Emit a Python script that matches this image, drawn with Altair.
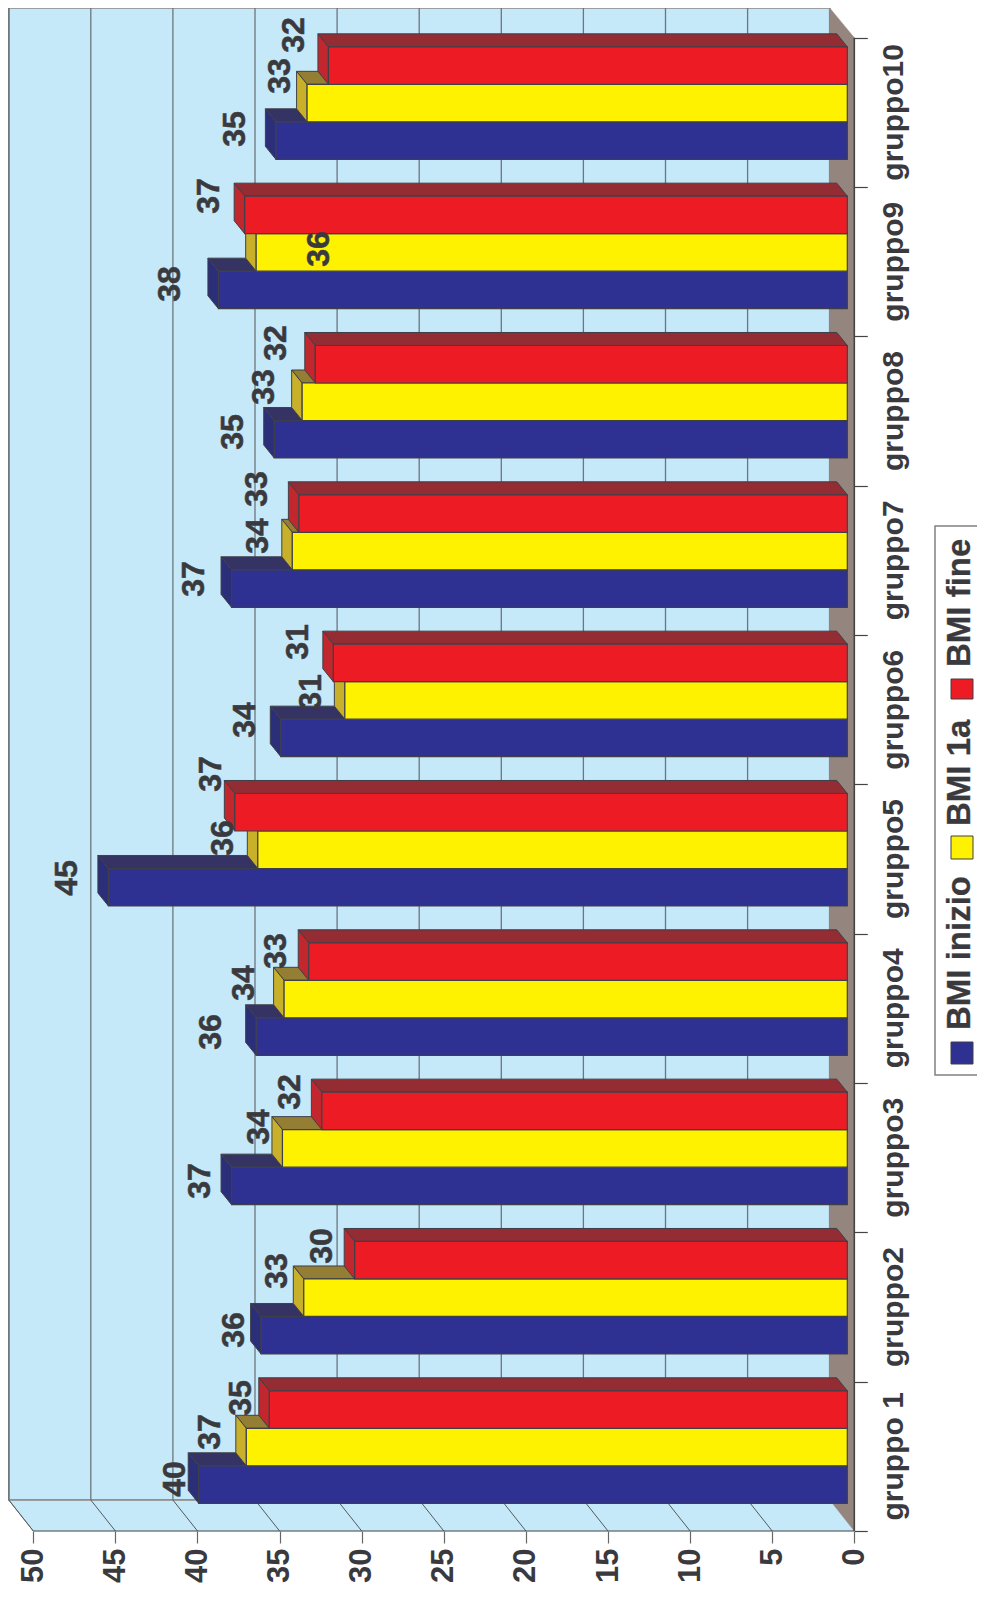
import altair as alt
import pandas as pd

groups = ["gruppo 1", "gruppo2", "gruppo3", "gruppo4", "gruppo5", "gruppo6", "gruppo7", "gruppo8", "gruppo9", "gruppo10"]
bmi_inizio = [39.5, 35.7, 37.5, 36.0, 45.0, 34.5, 37.5, 34.9, 38.3, 34.8]
bmi_1a = [36.6, 33.1, 34.4, 34.3, 35.9, 30.6, 33.8, 33.2, 36.0, 32.9]
bmi_fine = [35.2, 30.0, 32.0, 32.8, 37.3, 31.3, 33.4, 32.4, 36.7, 31.6]
labels_inizio = ["40", "36", "37", "36", "45", "34", "37", "35", "38", "35"]
labels_1a = ["37", "33", "34", "34", "36", "31", "34", "33", "36", "33"]
labels_fine = ["35", "30", "32", "33", "37", "31", "33", "32", "37", "32"]
# where each printed value sits on the page (hand placed in the original)
place_inizio = [(175, 1479), (234, 1330), (200, 1181), (211, 1032), (67, 878), (245, 720), (194, 579), (233, 432), (170, 284), (235, 129)]
place_1a = [(210, 1432), (277, 1271), (259, 1127), (244, 983), (223, 838), (311, 692), (258, 536), (264, 387), (319, 249), (280, 76)]
place_fine = [(241, 1398), (322, 1246), (290, 1092), (276, 951), (211, 774), (298, 642), (257, 489), (276, 343), (209, 196), (294, 35)]
ticks_value = [0, 5, 10, 15, 20, 25, 30, 35, 40, 45, 50]

FONT = "Liberation Sans"
INK = "#3a3a3e"
EDGE = "#3f3f48"

PX_X0, PX_PER_V = 854.3, 16.42
PX_Y0, PX_PER_U = 1531.0, 149.33
PLOT_L, PLOT_T = 9.0, 8.0
def xv(px): return (PX_X0 - px) / PX_PER_V
def yu(py): return (PX_Y0 - py) / PX_PER_U

W = PX_X0 - PLOT_L
H = PX_Y0 - PLOT_T
xs = alt.Scale(domain=[xv(PLOT_L), 0], range=[0, W], nice=False, zero=False)
ys = alt.Scale(domain=[0, yu(PLOT_T)], range=[H, 0], nice=False, zero=False)
AX = alt.Axis(
    values=ticks_value, grid=False, domain=False, tickSize=12, tickColor="#666666", tickWidth=1.2,
    labelAngle=270, labelAlign="right", labelBaseline="middle", labelPadding=5,
    labelFont=FONT, labelFontSize=31, labelFontWeight="bold", labelColor=INK,
    labelOverlap=False, labelFlush=False, labelBound=False, title=None)
AY = alt.Axis(
    orient="right", values=list(range(11)), grid=False, domain=False, labels=False,
    tickSize=13, tickColor="#444444", tickWidth=1.2, title=None)
X = lambda f="x": alt.X(f"{f}:Q", scale=xs, axis=AX)
Y = lambda f="y": alt.Y(f"{f}:Q", scale=ys, axis=AY)
X2 = lambda f="x2": alt.X2(f"{f}:Q")
Y2 = lambda f="y2": alt.Y2(f"{f}:Q")

WALL_DV, WALL_DU = 24.6 / PX_PER_V, 31.0 / PX_PER_U
BAR_BASE = 7.0 / PX_PER_V
DEPTH_V, DEPTH_U = 10.5 / PX_PER_V, 13.0 / PX_PER_U
BAR_U = 37.5 / PX_PER_U
FIRST_BOTTOM_U = yu(1503.3)

wall_x_back = xv(PLOT_L)

back = alt.Chart(pd.DataFrame({"x": [wall_x_back], "x2": [WALL_DV], "y": [WALL_DU], "y2": [yu(PLOT_T)]})).mark_rect(
    fill="#c6e9fa", stroke="#8d8480", strokeWidth=1.6
).encode(x=X(), y=Y(), x2=X2(), y2=Y2())

side_df = pd.DataFrame({"y": [0, WALL_DU], "x": [50, wall_x_back], "x2": [0, WALL_DV]})
side = alt.Chart(side_df).mark_area(orient="horizontal", fill="#c6e9fa", stroke="#c6e9fa", strokeWidth=0.5).encode(
    y=Y(), x=X(), x2=X2())
wall_edge = alt.Chart(pd.DataFrame({"x": [wall_x_back], "x2": [WALL_DV], "y": [WALL_DU]})).mark_rule(
    color="#8d8480", strokeWidth=1.6).encode(x=X(), x2=X2(), y=Y())
corner = alt.Chart(pd.DataFrame({"x": [wall_x_back, 50], "y": [WALL_DU, 0]})).mark_line(
    color="#8d8480", strokeWidth=1).encode(x=X(), y=Y(), order="y:Q")

floor_df = pd.DataFrame({"x": [0, WALL_DV], "y": [0, WALL_DU], "y2": [10, yu(PLOT_T)]})
floor = alt.Chart(floor_df).mark_area(orient="vertical", fill="#94857f", stroke="#94857f", strokeWidth=0.5).encode(
    x=X(), y=Y(), y2=Y2())

grid_vals = ticks_value[1:]
grid = alt.Chart(pd.DataFrame({"x": [v + WALL_DV for v in grid_vals]})).transform_calculate(
    y=f"{WALL_DU}", y2=f"{yu(PLOT_T)}").mark_rule(color="#6c767c", strokeWidth=1.3).encode(
    x=X(), y=Y(), y2=Y2())

diag_rows = []
for v in grid_vals:
    diag_rows += [{"k": v, "x": v, "y": 0}, {"k": v, "x": v + WALL_DV, "y": WALL_DU}]
diag = alt.Chart(pd.DataFrame(diag_rows)).mark_line(color="#55595c", strokeWidth=1).encode(
    x=X(), y=Y(), detail="k:N", order="y:Q")

axis_x_line = alt.Chart(pd.DataFrame({"x": [50], "x2": [0], "y": [0]})).mark_rule(color="#444444", strokeWidth=1.2).encode(
    x=X(), x2=X2(), y=Y())
axis_y_line = alt.Chart(pd.DataFrame({"x": [0], "y": [0], "y2": [10]})).mark_rule(color="#444444", strokeWidth=1.6).encode(
    x=X(), y=Y(), y2=Y2())

series = [
    (bmi_inizio, 0, "#2e3192", "#343363", "#2b2e78"),
    (bmi_1a, 1, "#fff200", "#937e34", "#c8b02b"),
    (bmi_fine, 2, "#ed1c24", "#942c33", "#c1272d"),
]

bar_layers = []
for vals, pos, c_front, c_top, c_side in series:
    top_rows, side_rows, front_rows = [], [], []
    for i, v in enumerate(vals):
        lo = i + FIRST_BOTTOM_U + pos * BAR_U
        hi = lo + BAR_U
        end = v + BAR_BASE
        top_rows += [
            {"k": i, "y": hi, "x": end, "x2": BAR_BASE},
            {"k": i, "y": hi + DEPTH_U, "x": end + DEPTH_V, "x2": BAR_BASE + DEPTH_V},
        ]
        side_rows += [
            {"k": i, "x": end, "y": lo, "y2": hi},
            {"k": i, "x": end + DEPTH_V, "y": lo + DEPTH_U, "y2": hi + DEPTH_U},
        ]
        front_rows.append({"x": end, "x2": BAR_BASE, "y": lo, "y2": hi})
    bar_layers.append(alt.Chart(pd.DataFrame(top_rows)).mark_area(
        orient="horizontal", fill=c_top, stroke=EDGE, strokeWidth=1).encode(
        y=Y(), x=X(), x2=X2(), detail="k:N"))
    bar_layers.append(alt.Chart(pd.DataFrame(side_rows)).mark_area(
        orient="vertical", fill=c_side, stroke=EDGE, strokeWidth=1).encode(
        x=X(), y=Y(), y2=Y2(), detail="k:N"))
    bar_layers.append(alt.Chart(pd.DataFrame(front_rows)).mark_rect(
        fill=c_front, stroke=EDGE, strokeWidth=1.2).encode(
        x=X(), x2=X2(), y=Y(), y2=Y2()))

lab_rows = []
for labs, places in [(labels_inizio, place_inizio), (labels_1a, place_1a), (labels_fine, place_fine)]:
    for t, (px, py) in zip(labs, places):
        lab_rows.append({"t": t, "x": xv(px), "y": yu(py)})
value_text = alt.Chart(pd.DataFrame(lab_rows)).mark_text(
    angle=270, align="center", baseline="middle", font=FONT, fontSize=32, fontWeight="bold", color=INK,
    stroke=INK, strokeWidth=0.5
).encode(x=X(), y=Y(), text="t:N")

cat_text = alt.Chart(pd.DataFrame({"t": groups, "y": [i + 0.5 for i in range(10)], "x": [xv(894)] * 10})).mark_text(
    angle=270, align="center", baseline="middle", font=FONT, fontSize=30, fontWeight="bold", color=INK
).encode(x=X(), y=Y(), text="t:N")

legend_names = ["BMI inizio", "BMI 1a", "BMI fine"]
legend_cols = ["#2e3192", "#fff200", "#ed1c24"]
legend_sq = [(1064, 1042), (859, 836), (699, 679)]
legend_txt = [1030, 826, 667]

frame = alt.Chart(pd.DataFrame({"x": [xv(935)], "x2": [xv(1010)], "y": [yu(1075)], "y2": [yu(526)]})).mark_rect(
    fill="white", stroke="#808080", strokeWidth=1.5).encode(x=X(), x2=X2(), y=Y(), y2=Y2())
sq_df = pd.DataFrame({"x": [xv(951)] * 3, "x2": [xv(973)] * 3,
                      "y": [yu(a) for a, b in legend_sq], "y2": [yu(b) for a, b in legend_sq], "c": legend_cols})
squares = alt.Chart(sq_df).mark_rect(stroke=EDGE, strokeWidth=1).encode(
    x=X(), x2=X2(), y=Y(), y2=Y2(), fill=alt.Fill("c:N", scale=None, legend=None))
leg_text = alt.Chart(pd.DataFrame({"t": legend_names, "x": [xv(960)] * 3, "y": [yu(p) for p in legend_txt]})).mark_text(
    angle=270, align="left", baseline="middle", font=FONT, fontSize=33, fontWeight="bold", color=INK,
    stroke=INK, strokeWidth=0.3
).encode(x=X(), y=Y(), text="t:N")

layers = [back, side, wall_edge, corner, floor, grid, diag, axis_x_line, axis_y_line] + bar_layers + [value_text, cat_text, frame, squares, leg_text]

chart = alt.layer(*layers).properties(
    width=W, height=H, autosize="none",
    padding={"left": PLOT_L - 8, "top": PLOT_T - 8, "right": 969 - (W + PLOT_L - 8), "bottom": 1575 - H},
).configure_view(stroke=None)

chart.save("out.html", embed_options={"renderer": "svg", "actions": False})
